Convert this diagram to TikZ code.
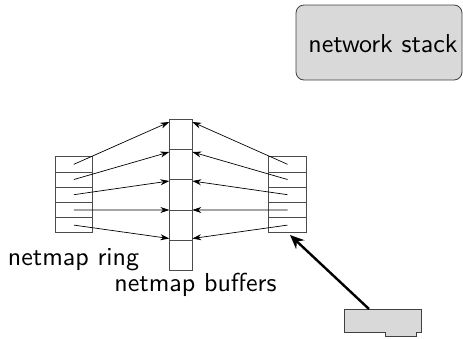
\documentclass[tikz,border=0pt]{standalone}
\usetikzlibrary{arrows.meta}
\begin{document}
\begin{tikzpicture}[x=1pt,y=-1pt,
  lbl/.style={font=\sffamily, scale=2.6, inner sep=0pt, anchor=base},
  ringcell/.style={draw=black!70, line width=0.8pt, minimum width=37.7pt, minimum height=15.2pt, inner sep=0pt, outer sep=0pt},
  bufcell/.style={draw=black!70, line width=0.8pt, minimum width=23pt, minimum height=30.28pt, inner sep=0pt, outer sep=0pt},
  thin/.style={line width=0.7pt, -{Stealth[length=9pt,width=6pt]}},
  thick/.style={line width=2.4pt, -{Stealth[length=14pt,width=12pt]}}]
\useasboundingbox (0,0) rectangle (463,338);
% network stack
\node[draw=black!75, fill=black!15, rounded corners=8pt, line width=0.8pt, minimum width=166pt, minimum height=75pt, inner sep=0pt] (stack) at (379,42.5) {};
\node[lbl] (stacktxt) at (383,52) {network stack};
% rings
\foreach \i in {1,...,5}{
  \node[ringcell] (l\i) at (73.85,{164.3+15.2*(\i-1)}) {};
  \node[ringcell] (r\i) at (287.5,{164.3+15.2*(\i-1)}) {};
}
% buffers
\foreach \i in {1,...,5}{
  \node[bufcell] (b\i) at (180.8,{134.44+30.28*(\i-1)}) {};
}
\node[bufcell, minimum height=30pt] (b6) at (180.8,255.7) {};
% arrow targets
\foreach \i/\y in {1/122,2/152,3/181,4/210,5/238.5}{
  \coordinate (bl\i) at (169.3,\y);
  \coordinate (br\i) at (192.3,\y);
}
\foreach \i in {1,...,5}{
  \draw[thin] (l\i.center) -- (bl\i);
  \draw[thin] (r\i.center) -- (br\i);
}
% labels
\node[lbl] (ringlbl) at (73.5,265) {netmap ring};
\node[lbl] (buflbl) at (195.5,291) {netmap buffers};
% NIC
\draw[draw=black!75, fill=black!15, line width=0.8pt] (344.3,309) -- (421.7,309) -- (421.7,332.7) -- (416.7,332.7) -- (416.7,336.7) -- (385,336.7) -- (385,332.7) -- (344.3,332.7) -- cycle;
\coordinate (nic) at (369,309);
\coordinate (ringcorner) at (290,235);
\draw[thick] (nic) -- (ringcorner);
\end{tikzpicture}
\end{document}
